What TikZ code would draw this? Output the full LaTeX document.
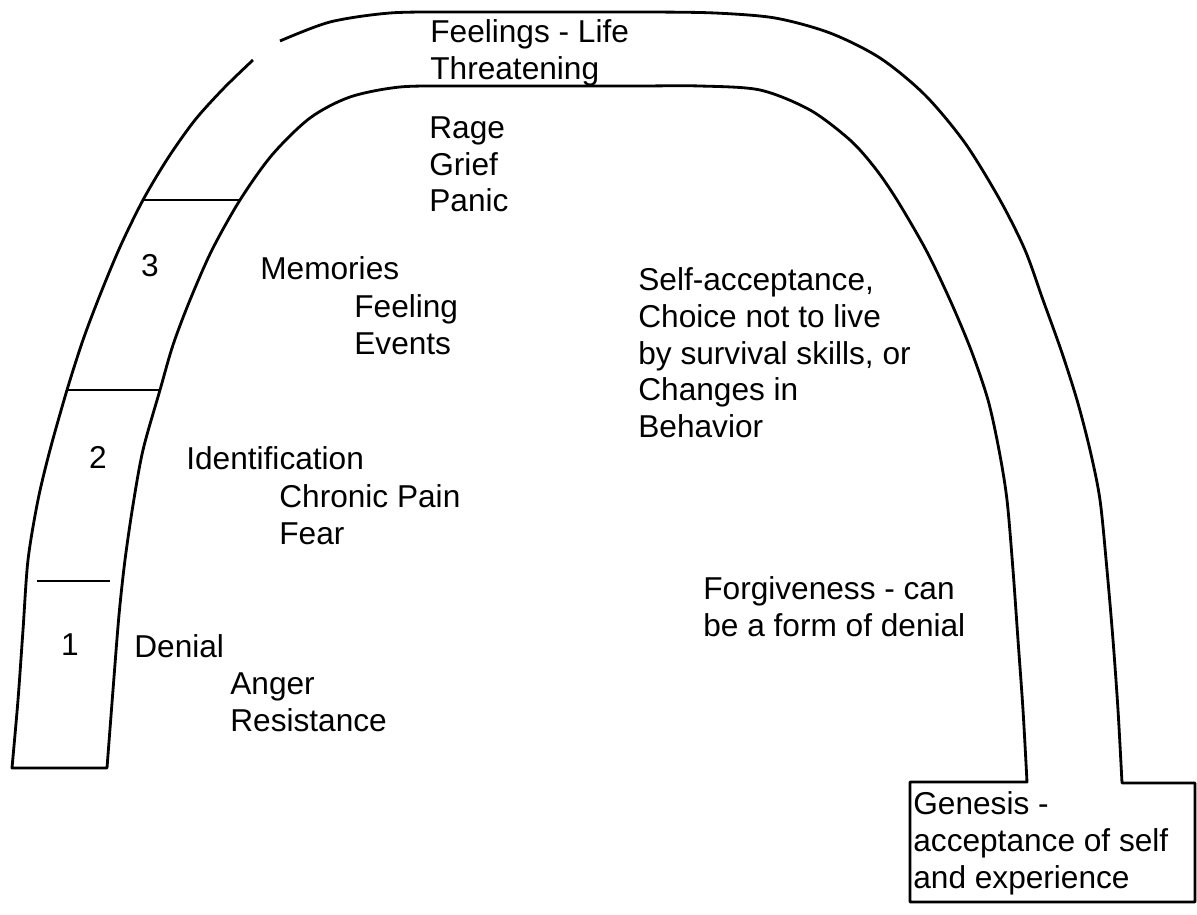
\documentclass[tikz,border=0pt]{standalone}
\usepackage{fontspec}
\setmainfont{Liberation Sans}
\usetikzlibrary{positioning}
\tikzset{
  arch/.style={line width=1.6pt, line join=round}, % outline of the arch
  rung/.style={line width=1.6pt}, % lines between the stages
  lbl/.style={anchor=north west, inner sep=0pt, align=left, font=\fontsize{18}{21}\selectfont},
  num/.style={inner sep=0pt, font=\fontsize{18}{21}\selectfont},
}

\begin{document}
\begin{tikzpicture}[x=0.02cm, y=-0.02cm]
    \useasboundingbox (0,0) rectangle (1197,915);

    % where the stage lines meet the band
    \coordinate (o3) at (143,200);
    \coordinate (i3) at (240,200);
    \coordinate (o2) at (67,390);
    \coordinate (i2) at (160,390);

    % outer edge over the top, the box at the foot, inner edge back, left foot
    \draw[arch] plot[smooth] coordinates {(280,41) (330,22) (390,13) (455,12) (520,12) (585,12) (650,12) (715,13) (775,18) (830,33) (880,58) (925,95) (965,143) (1000,200) (1025,250) (1043,300) (1061,350) (1077,400) (1090,450) (1100,500) (1107,570) (1113,640) (1118,710) (1122,783)}
        -- (1195,783) -- (1195,902) -- (910,902) -- (910,782)
        -- plot[smooth] coordinates {(1027,782) (1023,710) (1018,640) (1013,570) (1007,500) (999,450) (988,400) (971,350) (950,300) (926,250) (897,200) (875,168) (850,140) (810,110) (760,90) (700,86) (640,86) (580,86) (520,86) (460,86) (400,87) (350,97) (310,118) (272,155) (i3) (212,250) (190,300) (173,345) (i2) (143,450) (133,505) (125,560) (119,615) (113,690) (107,768)}
        -- plot[smooth] coordinates {(12,768) (18,700) (23,630) (28,560) (38,500) (50,450) (o2) (83,340) (100,295) (120,247) (o3) (168,158) (195,120) (224,88) (253,60)};

    % stage lines
    \draw[rung] (o3) -- (i3);
    \draw[rung] (o2) -- (i2);
    \draw[rung] (37,581) -- (110,581);

    % stage numbers
    \node[num] (n3) at (150,266) {3};
    \node[num] (n2) at (98,457) {2};
    \node[num] (n1) at (70,645) {1};

    % texts along the arch
    \node[lbl] (feel) at (430,19) {Feelings - Life\\Threatening};
    \node[lbl] (rage) at (429,116) {Rage\\Grief\\Panic};
    \node[lbl] (mem) at (260,256) {Memories};
    \node[lbl] (memsub) at (354,294) {Feeling\\Events};
    \node[lbl] (ident) at (186,446) {Identification};
    \node[lbl] (identsub) at (279,484) {Chronic Pain\\Fear};
    \node[lbl] (denial) at (134,634) {Denial};
    \node[lbl] (denialsub) at (230,672) {Anger\\Resistance};
    \node[lbl] (selfacc) at (638,267) {Self-acceptance,\\Choice not to live\\by survival skills, or\\Changes in\\Behavior};
    \node[lbl] (forgive) at (703,576) {Forgiveness - can\\be a form of denial};
    \node[lbl] (genesis) at (913,791) {Genesis -\\acceptance of self\\and experience};
\end{tikzpicture}
\end{document}
